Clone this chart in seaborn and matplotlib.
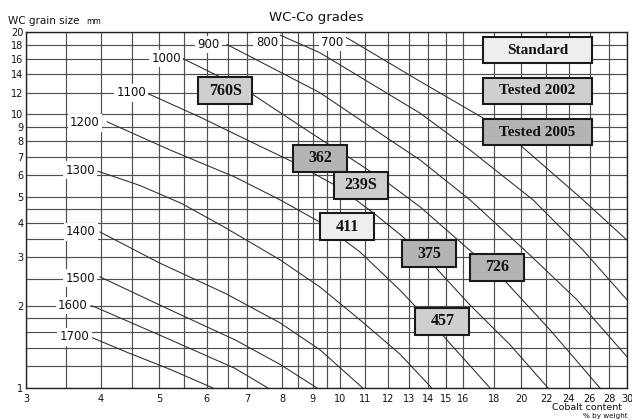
import matplotlib
matplotlib.use("Agg")
import matplotlib.pyplot as plt
import pandas as pd
import seaborn as sns
from matplotlib.patches import Rectangle
from matplotlib.ticker import FixedLocator, FixedFormatter, NullFormatter

# Iso-hardness lines (HV): cobalt content (wt%) vs WC grain size
co_700 = [9.88, 13.58, 17.28, 19.91, 25.35, 30.0]
d_700 = [20.0, 13.2, 9.70, 7.73, 4.87, 3.47]
co_800 = [7.73, 9.25, 13.58, 16.44, 20.93, 25.35, 30.0]
d_800 = [20.0, 16.8, 10.1, 7.41, 4.87, 3.19, 2.10]
co_900 = [6.48, 9.25, 12.10, 13.58, 16.44, 20.69, 24.77, 30.0]
d_900 = [18.0, 12.0, 8.06, 6.81, 4.87, 3.06, 2.10, 1.30]
co_1000 = [5.47, 6.31, 7.16, 9.15, 10.38, 12.01, 13.58, 16.63, 18.80, 22.34, 27.05]
d_1000 = [16.0, 13.7, 11.8, 8.27, 6.93, 5.61, 4.59, 3.11, 2.46, 1.63, 1.0]
co_1100 = [4.79, 5.84, 7.00, 8.34, 10.0, 11.42, 12.67, 14.27, 16.44, 19.16, 22.17]
d_1100 = [11.9, 9.78, 8.06, 6.70, 5.38, 4.32, 3.59, 2.82, 2.01, 1.44, 1.0]
co_1200 = [4.09, 5.21, 6.68, 7.94, 9.25, 10.79, 12.57, 14.8, 17.75]
d_1200 = [9.4, 7.41, 5.90, 4.87, 4.04, 3.14, 2.28, 1.56, 1.0]
co_1300 = [3.95, 4.64, 5.45, 6.43, 7.94, 9.25, 10.9, 12.57, 14.2]
d_1300 = [6.2, 5.5, 4.72, 3.86, 2.94, 2.34, 1.74, 1.33, 1.0]
co_1400 = [3.98, 5.01, 6.43, 7.94, 9.25, 10.9]
d_1400 = [3.72, 2.86, 2.22, 1.73, 1.38, 1.0]
co_1500 = [3.98, 5.21, 6.68, 7.94, 9.15]
d_1500 = [2.55, 1.93, 1.50, 1.22, 1.0]
co_1600 = [3.86, 5.01, 6.68, 7.58]
d_1600 = [2.0, 1.56, 1.18, 1.0]
co_1700 = [3.83, 4.42, 5.21, 6.14]
d_1700 = [1.54, 1.35, 1.17, 1.0]

hardness = [700, 800, 900, 1000, 1100, 1200, 1300, 1400, 1500, 1600, 1700]
cobalt = [co_700, co_800, co_900, co_1000, co_1100, co_1200,
          co_1300, co_1400, co_1500, co_1600, co_1700]
grain = [d_700, d_800, d_900, d_1000, d_1100, d_1200,
         d_1300, d_1400, d_1500, d_1600, d_1700]

# Grades (cobalt wt%, grain size) and their status
grade_names = ["760S", "362", "239S", "411", "375", "726", "457"]
grade_co = [6.44, 9.27, 10.83, 10.26, 14.05, 18.23, 14.79]
grade_d = [12.18, 6.90, 5.50, 3.89, 3.10, 2.76, 1.75]
grade_status = ["Tested 2002", "Tested 2005", "Tested 2002", "Standard",
                "Tested 2005", "Tested 2005", "Tested 2002"]

status_names = ["Standard", "Tested 2002", "Tested 2005"]
status_colors = ["#eeeeee", "#cfcfcf", "#b4b4b4"]

x_major = [3, 4, 5, 6, 7, 8, 9, 10, 11, 12, 13, 14, 15, 16, 18, 20, 22, 24, 26, 28, 30]
x_minor = [3.5, 4.5, 5.5, 6.5, 8.5, 9.5]
y_major = [1, 2, 3, 4, 5, 6, 7, 8, 9, 10, 12, 14, 16, 18, 20]
y_minor = [1.2, 1.4, 1.6, 1.8, 2.5, 3.5, 4.5]

# where each hardness number is printed
label_at = {700: (9.69, 18.35), 800: (7.55, 18.35), 900: (6.03, 18.0),
            1000: (5.13, 16.0), 1100: (4.49, 12.0), 1200: (3.76, 9.3),
            1300: (3.69, 6.25), 1400: (3.70, 3.72), 1500: (3.69, 2.52),
            1600: (3.59, 2.0), 1700: (3.61, 1.54)}

sns.set_theme(style="white")
plt.rcParams["font.family"] = ["DejaVu Sans"]

rows = []
for hv, xs, ys in zip(hardness, cobalt, grain):
    for i, (x, y) in enumerate(zip(xs, ys)):
        rows.append({"hv": hv, "order": i, "cobalt": x, "grain": y})
curves = pd.DataFrame(rows)

fig = plt.figure(figsize=(6.32, 4.2), dpi=100)
ax = fig.add_axes([26 / 632, 32 / 420, 601 / 632, 356 / 420])
ax.set_xscale("log")
ax.set_yscale("log")

sns.lineplot(data=curves, x="cobalt", y="grain", units="hv", estimator=None,
             sort=False, color="#2b2b2b", linewidth=0.75, legend=False,
             ax=ax, zorder=2)

ax.set_xlim(3, 30)
ax.set_ylim(1, 20)
ax.set_xlabel("")
ax.set_ylabel("")

ax.xaxis.set_major_locator(FixedLocator(x_major))
ax.xaxis.set_major_formatter(FixedFormatter([str(v) for v in x_major]))
ax.xaxis.set_minor_locator(FixedLocator(x_minor))
ax.xaxis.set_minor_formatter(NullFormatter())
ax.yaxis.set_major_locator(FixedLocator(y_major))
ax.yaxis.set_major_formatter(FixedFormatter([str(v) for v in y_major]))
ax.yaxis.set_minor_locator(FixedLocator(y_minor))
ax.yaxis.set_minor_formatter(NullFormatter())
ax.tick_params(which="both", length=0, labelsize=7, colors="#111111")
ax.tick_params(axis="x", pad=4)
ax.tick_params(axis="y", pad=2)

ax.grid(True, which="both", color="#505050", linewidth=0.85)
ax.set_axisbelow(True)
for sp in ax.spines.values():
    sp.set_color("#222222")
    sp.set_linewidth(1.0)

# hardness numbers on a white ground
for hv in hardness:
    lx, ly = label_at[hv]
    ax.text(lx, ly, str(hv), ha="center", va="center", fontsize=8.5,
            color="#111111", zorder=3,
            bbox=dict(boxstyle="square,pad=0.2", facecolor="white",
                      edgecolor="none"))

# grade boxes, 54 x 27 px, centred on each grade
box_w_px, box_h_px = 54, 27
hw = 10 ** (box_w_px / 2 / 601)
hh = 20 ** (box_h_px / 2 / 356)
color_of = dict(zip(status_names, status_colors))
for name, co, d, st in zip(grade_names, grade_co, grade_d, grade_status):
    ax.add_patch(Rectangle((co / hw, d / hh), co * hw - co / hw, d * hh - d / hh,
                           facecolor=color_of[st], edgecolor="#1a1a1a",
                           linewidth=1.5, zorder=4))
    ax.text(co, d, name, ha="center", va="center", fontsize=11.5,
            fontweight="bold", family="Liberation Serif", color="#111111",
            zorder=5)

# status key
key_x0, key_w, key_h = 0.7604, 0.1814, 0.073
key_y0 = [0.9129, 0.7978, 0.6826]
for name, col, y0 in zip(status_names, status_colors, key_y0):
    ax.add_patch(Rectangle((key_x0, y0), key_w, key_h, transform=ax.transAxes,
                           facecolor=col, edgecolor="#1a1a1a", linewidth=1.5,
                           zorder=4))
    ax.text(key_x0 + key_w / 2, y0 + key_h / 2, name, transform=ax.transAxes,
            ha="center", va="center", fontsize=11, fontweight="bold",
            family="Liberation Serif", color="#111111", zorder=5)

fig.text(316 / 632, 1 - 17 / 420, "WC-Co grades", ha="center", va="center",
         fontsize=9.5, color="#111111")
fig.text(8 / 632, 1 - 21 / 420, "WC grain size", ha="left", va="center",
         fontsize=7.5, color="#111111")
fig.text(86 / 632, 1 - 22 / 420, "mm", ha="left", va="center",
         fontsize=5.5, color="#111111")
fig.text(622 / 632, 1 - 407 / 420, "Cobalt content", ha="right", va="center",
         fontsize=6.8, color="#111111")
fig.text(628 / 632, 1 - 416 / 420, "% by weight", ha="right", va="center",
         fontsize=5.2, color="#111111")

fig.savefig("out.png", dpi=100, facecolor="white")
